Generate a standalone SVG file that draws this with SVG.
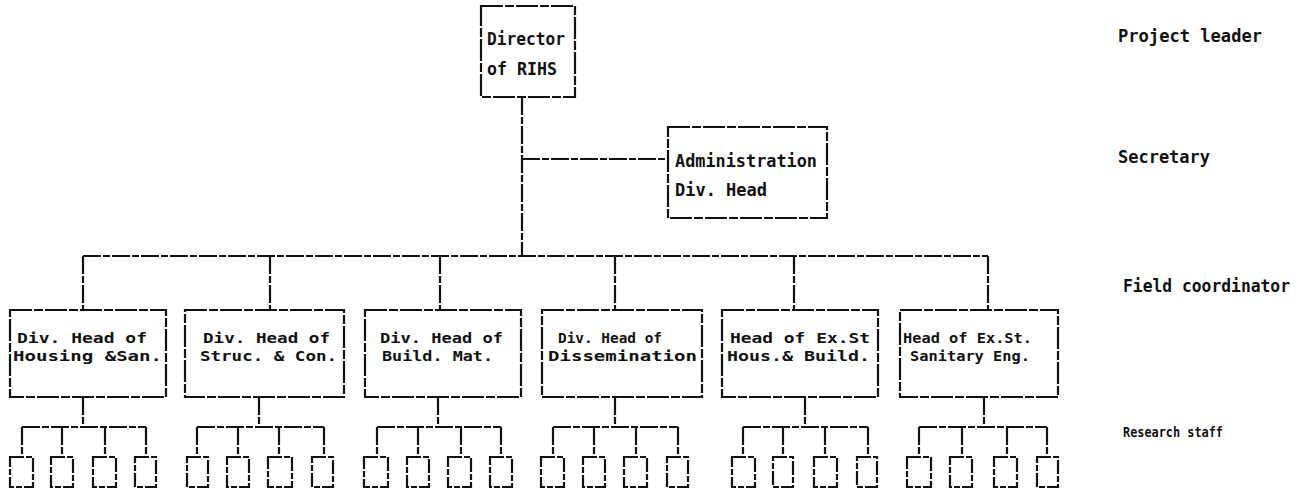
<svg xmlns="http://www.w3.org/2000/svg" width="1308" height="491" viewBox="0 0 1308 491">
<defs>
<style>
.bx{fill:#fff;stroke:#111;stroke-width:2.2;stroke-dasharray:22 2 9 2}
.sb{fill:#fff;stroke:#111;stroke-width:2.2;stroke-dasharray:14 2 6 2}
.ln{fill:none;stroke:#111;stroke-width:2.2;stroke-dasharray:18 2 7 2}
text{font-family:"DejaVu Sans Mono","Liberation Mono",monospace;fill:#111;font-weight:bold}
.t1{font-size:18px}
.t2{font-size:14px}
.t3{font-size:17px}
.t4{font-size:14px}
</style>
</defs>
<rect width="1308" height="491" fill="#fff"/>
<g id="connectors">
<path class="ln" d="M522,97 V256 M522,159 H668 M83,256 H988 M83,256 V310 M270,256 V310 M440,256 V310 M615,256 V310 M794,256 V310 M988,256 V310"/>
<path class="ln" d="M83,397 V427 M22,427 H146 M22,427 V457 M62,427 V457 M105,427 V457 M146,427 V457"/>
<path class="ln" d="M259,397 V427 M197,427 H324 M197,427 V457 M238,427 V457 M279,427 V457 M324,427 V457"/>
<path class="ln" d="M438,397 V427 M377,427 H501 M377,427 V457 M418,427 V457 M461,427 V457 M501,427 V457"/>
<path class="ln" d="M615,397 V427 M553,427 H678 M553,427 V457 M594,427 V457 M636,427 V457 M678,427 V457"/>
<path class="ln" d="M805,397 V427 M743,427 H868 M743,427 V457 M783,427 V457 M825,427 V457 M868,427 V457"/>
<path class="ln" d="M984,397 V427 M919,427 H1047 M919,427 V457 M962,427 V457 M1007,427 V457 M1047,427 V457"/>
</g>
<g id="director">
<rect class="bx" x="481" y="6" width="94" height="91"/>
<text class="t1" x="487" y="45" textLength="78" lengthAdjust="spacingAndGlyphs">Director</text>
<text class="t1" x="487" y="75" textLength="70" lengthAdjust="spacingAndGlyphs">of RIHS</text>
</g>
<g id="admin">
<rect class="bx" x="668" y="127" width="159" height="91"/>
<text class="t1" x="675" y="167" textLength="142" lengthAdjust="spacingAndGlyphs">Administration</text>
<text class="t1" x="675" y="196" textLength="92" lengthAdjust="spacingAndGlyphs">Div. Head</text>
</g>
<g id="div1">
<rect class="bx" x="10" y="310" width="156" height="87"/>
<text class="t2" x="17" y="343" textLength="130" lengthAdjust="spacingAndGlyphs">Div. Head of</text>
<text class="t2" x="13" y="361" textLength="149" lengthAdjust="spacingAndGlyphs">Housing &amp;San.</text>
</g>
<g id="div2">
<rect class="bx" x="185" y="310" width="159" height="87"/>
<text class="t2" x="203" y="343" textLength="127" lengthAdjust="spacingAndGlyphs">Div. Head of</text>
<text class="t2" x="200" y="361" textLength="137" lengthAdjust="spacingAndGlyphs">Struc. &amp; Con.</text>
</g>
<g id="div3">
<rect class="bx" x="365" y="310" width="156" height="87"/>
<text class="t2" x="380" y="343" textLength="123" lengthAdjust="spacingAndGlyphs">Div. Head of</text>
<text class="t2" x="382" y="361" textLength="111" lengthAdjust="spacingAndGlyphs">Build. Mat.</text>
</g>
<g id="div4">
<rect class="bx" x="542" y="310" width="160" height="87"/>
<text class="t2" x="558" y="343" textLength="104" lengthAdjust="spacingAndGlyphs">Div. Head of</text>
<text class="t2" x="548" y="361" textLength="149" lengthAdjust="spacingAndGlyphs">Dissemination</text>
</g>
<g id="div5">
<rect class="bx" x="722" y="310" width="156" height="87"/>
<text class="t2" x="730" y="343" textLength="140" lengthAdjust="spacingAndGlyphs">Head of Ex.St</text>
<text class="t2" x="727" y="361" textLength="143" lengthAdjust="spacingAndGlyphs">Hous.&amp; Build.</text>
</g>
<g id="div6">
<rect class="bx" x="900" y="310" width="158" height="87"/>
<text class="t2" x="903" y="343" textLength="129" lengthAdjust="spacingAndGlyphs">Head of Ex.St.</text>
<text class="t2" x="910" y="361" textLength="120" lengthAdjust="spacingAndGlyphs">Sanitary Eng.</text>
</g>
<g id="staff">
<rect class="sb" x="10" y="457" width="23" height="30"/>
<rect class="sb" x="51" y="457" width="22" height="30"/>
<rect class="sb" x="93" y="457" width="23" height="30"/>
<rect class="sb" x="135" y="457" width="21" height="30"/>
<rect class="sb" x="187" y="457" width="21" height="30"/>
<rect class="sb" x="227" y="457" width="22" height="30"/>
<rect class="sb" x="268" y="457" width="24" height="30"/>
<rect class="sb" x="312" y="457" width="21" height="30"/>
<rect class="sb" x="364" y="457" width="24" height="30"/>
<rect class="sb" x="407" y="457" width="22" height="30"/>
<rect class="sb" x="448" y="457" width="23" height="30"/>
<rect class="sb" x="490" y="457" width="22" height="30"/>
<rect class="sb" x="541" y="457" width="23" height="30"/>
<rect class="sb" x="583" y="457" width="22" height="30"/>
<rect class="sb" x="624" y="457" width="23" height="30"/>
<rect class="sb" x="667" y="457" width="21" height="30"/>
<rect class="sb" x="732" y="457" width="23" height="30"/>
<rect class="sb" x="773" y="457" width="20" height="30"/>
<rect class="sb" x="814" y="457" width="23" height="30"/>
<rect class="sb" x="857" y="457" width="20" height="30"/>
<rect class="sb" x="907" y="457" width="24" height="30"/>
<rect class="sb" x="950" y="457" width="22" height="30"/>
<rect class="sb" x="994" y="457" width="23" height="30"/>
<rect class="sb" x="1037" y="457" width="21" height="30"/>
</g>
<g id="labels">
<text class="t3" x="1118" y="42" textLength="144" lengthAdjust="spacingAndGlyphs">Project leader</text>
<text class="t3" x="1118" y="163" textLength="92" lengthAdjust="spacingAndGlyphs">Secretary</text>
<text class="t3" x="1123" y="292" textLength="167" lengthAdjust="spacingAndGlyphs">Field coordinator</text>
<text class="t4" x="1123" y="437" textLength="100" lengthAdjust="spacingAndGlyphs">Research staff</text>
</g>
</svg>
